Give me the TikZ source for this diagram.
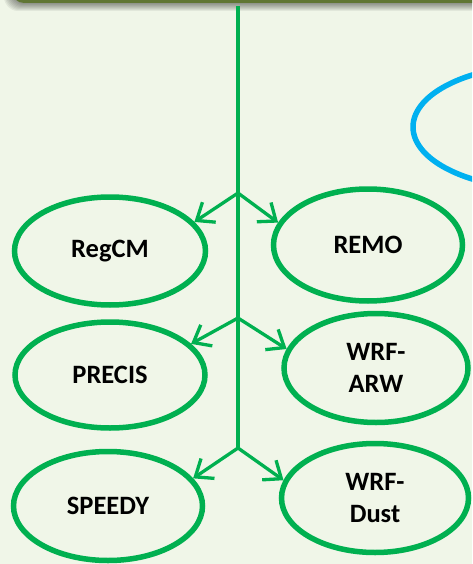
\documentclass[tikz,border=0pt]{standalone}
\usepackage{fontspec}
\setmainfont{Carlito}
\usetikzlibrary{shapes.geometric, arrows.meta}

\definecolor{modelgreen}{RGB}{0,176,80}
\definecolor{ringblue}{RGB}{0,176,240}
\definecolor{barolive}{RGB}{96,118,52}
\definecolor{paper}{RGB}{240,246,232}

\begin{document}
\begin{tikzpicture}[x=1pt, y=-1pt,
  model/.style={ellipse, draw=modelgreen, line width=5.5pt, minimum width=190pt, minimum height=108pt,
    align=center, font=\bfseries\fontsize{26.5}{32}\selectfont},
  branch/.style={draw=modelgreen, line width=3.3pt, -{Straight Barb[length=15pt, width=24pt]}},
  trunkline/.style={draw=modelgreen, line width=4.3pt}]
  \useasboundingbox (0,0) rectangle (472,564);
  \clip (0,0) rectangle (472,564);
  \fill[paper] (0,0) rectangle (472,564);
  % bottom edge of the title box above, with its soft shadow
  \foreach \s in {1,...,8}
    \fill[black, opacity=0.06, rounded corners=14pt] (12-\s,-40) rectangle (520,3+\s);
  \fill[barolive, rounded corners=12pt] (12,-40) rectangle (520,3);
  % blue ellipse cut off at the right
  \node (ring) [ellipse, draw=ringblue, line width=5.5pt, minimum width=260pt, minimum height=124pt] at (543,127) {};
  % models
  \node (regcm) [model, minimum width=191pt] at (110,251) {RegCM};
  \node (remo) [model, minimum width=189pt, minimum height=112pt] at (368,245) {REMO};
  \node (precis) [model, minimum height=106pt] at (110,375) {PRECIS};
  \node (wrfarw) [model, minimum width=184pt, minimum height=109pt] at (376,368) {WRF-\\ARW};
  \node (speedy) [model, minimum width=189pt, minimum height=109pt] at (108,506) {SPEEDY};
  \node (wrfdust) [model, minimum width=187pt, minimum height=109pt] at (375,498) {WRF-\\Dust};
  % trunk and forks
  \coordinate (trunk) at (238,6);
  \coordinate (fork1) at (238,193);
  \coordinate (fork2) at (238,318);
  \coordinate (fork3) at (238,448);
  \draw[trunkline] (trunk) -- (fork3);
  \draw[branch] (fork1) -- (regcm.19);
  \draw[branch] (fork1) -- (remo.166);
  \draw[branch] (fork2) -- (precis.21);
  \draw[branch] (fork2) -- (wrfarw.168);
  \draw[branch] (fork3) -- (speedy.18);
  \draw[branch] (fork3) -- (wrfdust.169);
\end{tikzpicture}
\end{document}
